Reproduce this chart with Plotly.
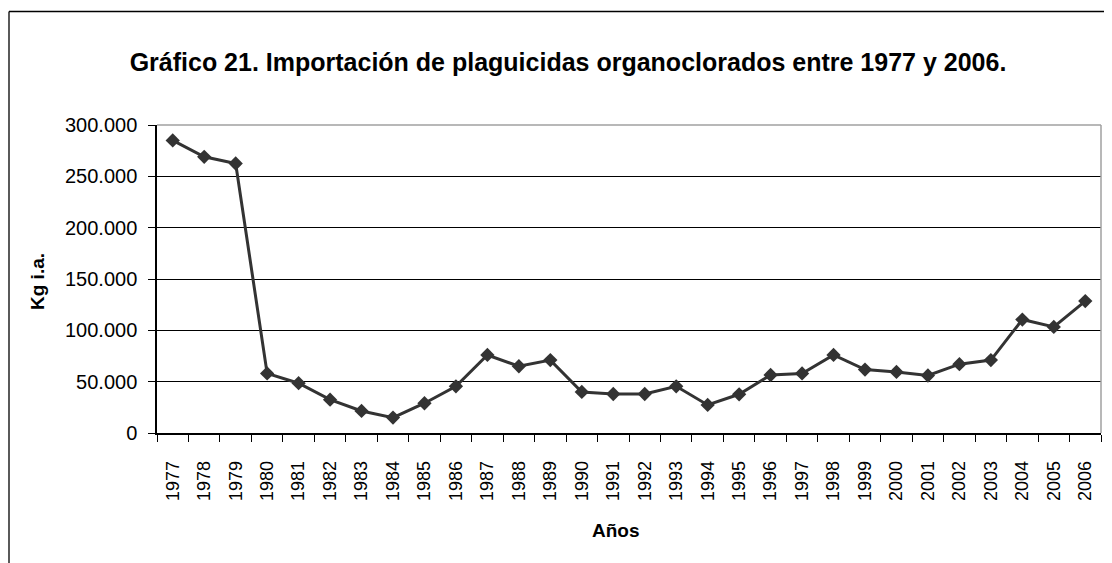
import plotly.graph_objects as go

years = [str(y) for y in range(1977, 2007)]
kg_ia = [285000, 269000, 262500, 58000, 48500, 32500, 21500, 15000, 29000, 45500,
         76000, 65000, 71000, 40000, 38000, 38000, 45500, 27300, 37700, 56500,
         58000, 76000, 61800, 59500, 56000, 67000, 71000, 110500, 103300, 128500]
y_ticks = [0, 50000, 100000, 150000, 200000, 250000, 300000]

title_text = "Gráfico 21. Importación de plaguicidas organoclorados entre 1977 y 2006."
x_title = "Años"
y_title = "Kg i.a."

# the page body has an 8px margin: build the figure 8px smaller and use screen coords minus 8
O = 8
W, H = 1112 - O, 563 - O
L, R, T, B = 157 - O, 11, 125 - O, 130
pw, ph = W - L - R, H - T - B

def px_x(x):
    return (x - O - L) / pw

def px_y(y):
    return (H - B - (y - O)) / ph

fig = go.Figure()
fig.add_trace(go.Scatter(
    x=years, y=kg_ia, mode="lines+markers",
    line=dict(color="#333333", width=3),
    marker=dict(symbol="diamond", size=11, color="#333333"),
    showlegend=False,
))

fig.update_layout(
    width=W, height=H,
    margin=dict(l=L, r=R, t=T, b=B, pad=0),
    paper_bgcolor="white", plot_bgcolor="white",
    separators=",.",
    font=dict(family="Liberation Sans, Arial, sans-serif", color="black"),
    title=dict(text=title_text, x=(568 - O) / W, y=1 - (62 - O) / H, xanchor="center", yanchor="middle",
               font=dict(family="Liberation Sans, Arial, sans-serif", size=25, color="black", weight="bold")),
    xaxis=dict(
        type="category", range=[-0.5, len(years) - 0.5], tickangle=-90, tickson="boundaries",
        ticks="outside", ticklen=7, tickwidth=1.3, tickcolor="black",
        showline=True, linecolor="black", linewidth=1.5,
        showgrid=False, tickfont=dict(size=18, color="black"),
        ticklabelstandoff=19,
    ),
    yaxis=dict(
        range=[0, 300000], tickvals=y_ticks, tickformat=",d",
        ticks="outside", ticklen=7, tickwidth=1.3, tickcolor="black",
        showline=True, linecolor="black", linewidth=1.5,
        showgrid=True, gridcolor="black", gridwidth=1.3, zeroline=False,
        tickfont=dict(size=20, color="black"), ticklabelstandoff=7,
    ),
    annotations=[
        dict(text=y_title, xref="paper", yref="paper", x=px_x(37), y=px_y(282),
             textangle=-90, showarrow=False, xanchor="center", yanchor="middle",
             font=dict(size=19, color="black", weight="bold")),
        dict(text=x_title, xref="paper", yref="paper", x=px_x(616), y=px_y(530),
             showarrow=False, xanchor="center", yanchor="middle",
             font=dict(size=19, color="black", weight="bold")),
    ],
    shapes=[
        dict(type="line", xref="paper", yref="paper", x0=0, x1=1, y0=1, y1=1,
             line=dict(color="#a0a0a0", width=1.5), layer="above"),
        dict(type="line", xref="paper", yref="paper", x0=1, x1=1, y0=0, y1=1,
             line=dict(color="#a0a0a0", width=1.5), layer="above"),
        dict(type="line", xref="paper", yref="paper", x0=px_x(9), x1=px_x(1200),
             y0=px_y(11.5), y1=px_y(11.5), line=dict(color="black", width=1.3)),
        dict(type="line", xref="paper", yref="paper", x0=px_x(9), x1=px_x(9),
             y0=px_y(11.5), y1=px_y(700), line=dict(color="black", width=1.3)),
    ],
)

fig.write_html("out.html")
